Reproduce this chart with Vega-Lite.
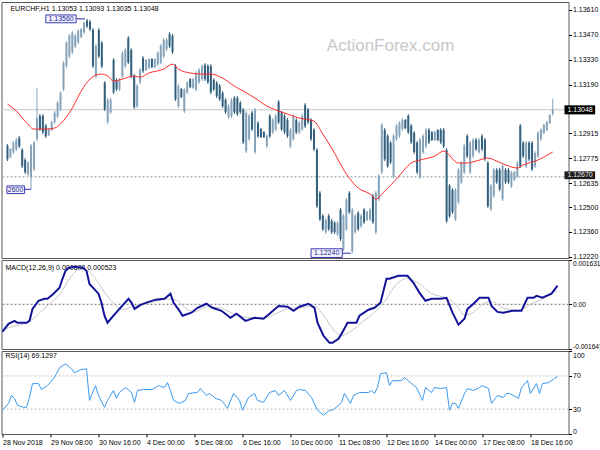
{
"$schema": "https://vega.github.io/schema/vega-lite/v6.json",
"padding": {"left": -2.5, "top": 1, "right": 0, "bottom": 0},
"background": "white",
"spacing": 2,
"bounds": "flush",
"config": {
  "view": {"stroke": "#5a5a5a", "strokeWidth": 1},
  "axis": {"labelFont": "Liberation Sans", "labelFontSize": 7, "labelColor": "#000000", "tickColor": "#000000", "tickSize": 3, "labelPadding": 1, "domain": false, "grid": false}
},
"datasets": {
"bars": [
{"i":0,"o":1.12845,"h":1.12855,"l":1.12759,"c":1.12769},
{"i":1,"o":1.12781,"h":1.12832,"l":1.12776,"c":1.12827},
{"i":2,"o":1.12809,"h":1.12872,"l":1.12799,"c":1.12862},
{"i":3,"o":1.12825,"h":1.12889,"l":1.12815,"c":1.12879},
{"i":4,"o":1.1289,"h":1.129,"l":1.12832,"c":1.12842},
{"i":5,"o":1.12822,"h":1.12832,"l":1.1272,"c":1.1273},
{"i":6,"o":1.12766,"h":1.12776,"l":1.12686,"c":1.12696},
{"i":7,"o":1.12685,"h":1.12759,"l":1.12675,"c":1.12749},
{"i":8,"o":1.12668,"h":1.12855,"l":1.126,"c":1.12845},
{"i":9,"o":1.12713,"h":1.12872,"l":1.12703,"c":1.12862},
{"i":10,"o":1.12882,"h":1.1317,"l":1.12872,"c":1.13},
{"i":11,"o":1.13014,"h":1.13024,"l":1.12928,"c":1.12938},
{"i":12,"o":1.13014,"h":1.13024,"l":1.12911,"c":1.12921},
{"i":13,"o":1.12958,"h":1.12968,"l":1.12889,"c":1.12899},
{"i":14,"o":1.12905,"h":1.12945,"l":1.129,"c":1.1294},
{"i":15,"o":1.12933,"h":1.12984,"l":1.12928,"c":1.12979},
{"i":16,"o":1.12978,"h":1.13041,"l":1.12968,"c":1.13031},
{"i":17,"o":1.13011,"h":1.13097,"l":1.13001,"c":1.13087},
{"i":18,"o":1.13051,"h":1.13153,"l":1.13041,"c":1.13143},
{"i":19,"o":1.13163,"h":1.13322,"l":1.13153,"c":1.13312},
{"i":20,"o":1.13293,"h":1.13435,"l":1.13283,"c":1.13425},
{"i":21,"o":1.13349,"h":1.13474,"l":1.13339,"c":1.13464},
{"i":22,"o":1.13372,"h":1.13491,"l":1.13362,"c":1.13481},
{"i":23,"o":1.13405,"h":1.13474,"l":1.13395,"c":1.13464},
{"i":24,"o":1.13428,"h":1.13502,"l":1.13418,"c":1.13492},
{"i":25,"o":1.13457,"h":1.13508,"l":1.13452,"c":1.13503},
{"i":26,"o":1.13484,"h":1.13547,"l":1.13474,"c":1.13537},
{"i":27,"o":1.1355,"h":1.1356,"l":1.13508,"c":1.13518},
{"i":28,"o":1.13545,"h":1.13555,"l":1.13491,"c":1.13501},
{"i":29,"o":1.13498,"h":1.13508,"l":1.13283,"c":1.13293},
{"i":30,"o":1.13236,"h":1.13418,"l":1.13226,"c":1.13408},
{"i":31,"o":1.13498,"h":1.13508,"l":1.13339,"c":1.13349},
{"i":32,"o":1.13425,"h":1.13435,"l":1.13283,"c":1.13293},
{"i":33,"o":1.132,"h":1.1321,"l":1.13041,"c":1.13051},
{"i":34,"o":1.12978,"h":1.13114,"l":1.12968,"c":1.13104},
{"i":35,"o":1.13034,"h":1.13114,"l":1.13024,"c":1.13104},
{"i":36,"o":1.13329,"h":1.13339,"l":1.13136,"c":1.13146},
{"i":37,"o":1.13216,"h":1.13226,"l":1.13153,"c":1.13163},
{"i":38,"o":1.13163,"h":1.13226,"l":1.13153,"c":1.13216},
{"i":39,"o":1.13236,"h":1.13378,"l":1.13226,"c":1.13368},
{"i":40,"o":1.13293,"h":1.13395,"l":1.13283,"c":1.13385},
{"i":41,"o":1.13453,"h":1.13463,"l":1.13305,"c":1.13315},
{"i":42,"o":1.13385,"h":1.13395,"l":1.13226,"c":1.13236},
{"i":43,"o":1.13239,"h":1.13249,"l":1.13052,"c":1.13062},
{"i":44,"o":1.13068,"h":1.13193,"l":1.13058,"c":1.13183},
{"i":45,"o":1.13203,"h":1.13283,"l":1.13193,"c":1.13273},
{"i":46,"o":1.1334,"h":1.1335,"l":1.13255,"c":1.13265},
{"i":47,"o":1.13271,"h":1.13333,"l":1.13266,"c":1.13328},
{"i":48,"o":1.13282,"h":1.13339,"l":1.13277,"c":1.13334},
{"i":49,"o":1.13334,"h":1.13339,"l":1.13283,"c":1.13288},
{"i":50,"o":1.13288,"h":1.13339,"l":1.13283,"c":1.13334},
{"i":51,"o":1.13304,"h":1.13378,"l":1.13294,"c":1.13368},
{"i":52,"o":1.13315,"h":1.13418,"l":1.13305,"c":1.13408},
{"i":53,"o":1.13349,"h":1.13452,"l":1.13339,"c":1.13442},
{"i":54,"o":1.13388,"h":1.13452,"l":1.13378,"c":1.13442},
{"i":55,"o":1.13475,"h":1.13485,"l":1.13395,"c":1.13405},
{"i":56,"o":1.13464,"h":1.13474,"l":1.13362,"c":1.13372},
{"i":57,"o":1.13295,"h":1.13305,"l":1.13097,"c":1.13107},
{"i":58,"o":1.13068,"h":1.13193,"l":1.13058,"c":1.13183},
{"i":59,"o":1.13165,"h":1.1317,"l":1.13114,"c":1.13119},
{"i":60,"o":1.13039,"h":1.1317,"l":1.13029,"c":1.1316},
{"i":61,"o":1.13146,"h":1.1321,"l":1.13136,"c":1.132},
{"i":62,"o":1.13221,"h":1.13226,"l":1.1317,"c":1.13175},
{"i":63,"o":1.1317,"h":1.13226,"l":1.13165,"c":1.13221},
{"i":64,"o":1.13163,"h":1.13266,"l":1.13153,"c":1.13256},
{"i":65,"o":1.13203,"h":1.13283,"l":1.13193,"c":1.13273},
{"i":66,"o":1.1322,"h":1.13305,"l":1.1321,"c":1.13295},
{"i":67,"o":1.13301,"h":1.13311,"l":1.1321,"c":1.1322},
{"i":68,"o":1.13295,"h":1.13305,"l":1.13193,"c":1.13203},
{"i":69,"o":1.13295,"h":1.13305,"l":1.13136,"c":1.13146},
{"i":70,"o":1.13216,"h":1.13226,"l":1.13153,"c":1.13163},
{"i":71,"o":1.132,"h":1.1321,"l":1.13114,"c":1.13124},
{"i":72,"o":1.13183,"h":1.13193,"l":1.13097,"c":1.13107},
{"i":73,"o":1.13143,"h":1.13153,"l":1.13058,"c":1.13068},
{"i":74,"o":1.13104,"h":1.13114,"l":1.13024,"c":1.13034},
{"i":75,"o":1.13006,"h":1.1308,"l":1.12996,"c":1.1307},
{"i":76,"o":1.13011,"h":1.13114,"l":1.13001,"c":1.13104},
{"i":77,"o":1.13115,"h":1.13125,"l":1.13024,"c":1.13034},
{"i":78,"o":1.13115,"h":1.13125,"l":1.13013,"c":1.13023},
{"i":79,"o":1.13087,"h":1.13097,"l":1.13024,"c":1.13034},
{"i":80,"o":1.13048,"h":1.13058,"l":1.12855,"c":1.12865},
{"i":81,"o":1.12814,"h":1.13041,"l":1.12804,"c":1.13031},
{"i":82,"o":1.12882,"h":1.13024,"l":1.12872,"c":1.13014},
{"i":83,"o":1.13031,"h":1.13041,"l":1.12928,"c":1.12938},
{"i":84,"o":1.12809,"h":1.13058,"l":1.12799,"c":1.13048},
{"i":85,"o":1.12974,"h":1.12984,"l":1.12889,"c":1.12899},
{"i":86,"o":1.1294,"h":1.12945,"l":1.12889,"c":1.12894},
{"i":87,"o":1.12923,"h":1.12928,"l":1.12889,"c":1.12894},
{"i":88,"o":1.12842,"h":1.12911,"l":1.12832,"c":1.12901},
{"i":89,"o":1.13014,"h":1.13024,"l":1.12889,"c":1.12899},
{"i":90,"o":1.12921,"h":1.13001,"l":1.12911,"c":1.12991},
{"i":91,"o":1.12938,"h":1.13024,"l":1.12928,"c":1.13014},
{"i":92,"o":1.13093,"h":1.13103,"l":1.12968,"c":1.12978},
{"i":93,"o":1.13031,"h":1.13041,"l":1.12928,"c":1.12938},
{"i":94,"o":1.13014,"h":1.13024,"l":1.12911,"c":1.12921},
{"i":95,"o":1.12991,"h":1.13001,"l":1.12889,"c":1.12899},
{"i":96,"o":1.12842,"h":1.12945,"l":1.12832,"c":1.12935},
{"i":97,"o":1.12882,"h":1.13024,"l":1.12872,"c":1.13014},
{"i":98,"o":1.12991,"h":1.13001,"l":1.12911,"c":1.12921},
{"i":99,"o":1.12921,"h":1.12984,"l":1.12911,"c":1.12974},
{"i":100,"o":1.12938,"h":1.13024,"l":1.12928,"c":1.13014},
{"i":101,"o":1.13076,"h":1.13086,"l":1.12945,"c":1.12955},
{"i":102,"o":1.13048,"h":1.13058,"l":1.12968,"c":1.12978},
{"i":103,"o":1.12991,"h":1.13001,"l":1.12872,"c":1.12882},
{"i":104,"o":1.12935,"h":1.12945,"l":1.12815,"c":1.12825},
{"i":105,"o":1.12822,"h":1.12832,"l":1.12495,"c":1.12505},
{"i":106,"o":1.1258,"h":1.1259,"l":1.12421,"c":1.12431},
{"i":107,"o":1.12451,"h":1.12461,"l":1.12365,"c":1.12375},
{"i":108,"o":1.12358,"h":1.12438,"l":1.12348,"c":1.12428},
{"i":109,"o":1.12451,"h":1.12461,"l":1.12365,"c":1.12375},
{"i":110,"o":1.12423,"h":1.12433,"l":1.12348,"c":1.12358},
{"i":111,"o":1.12411,"h":1.12421,"l":1.12348,"c":1.12358},
{"i":112,"o":1.12347,"h":1.12421,"l":1.12337,"c":1.12411},
{"i":113,"o":1.12485,"h":1.12495,"l":1.12309,"c":1.12319},
{"i":114,"o":1.12262,"h":1.12461,"l":1.12252,"c":1.12451},
{"i":115,"o":1.12375,"h":1.12551,"l":1.12365,"c":1.12541},
{"i":116,"o":1.1258,"h":1.1259,"l":1.12461,"c":1.12471},
{"i":117,"o":1.1225,"h":1.12495,"l":1.1224,"c":1.12485},
{"i":118,"o":1.12358,"h":1.12461,"l":1.12348,"c":1.12451},
{"i":119,"o":1.12468,"h":1.12478,"l":1.12365,"c":1.12375},
{"i":120,"o":1.12392,"h":1.12461,"l":1.12382,"c":1.12451},
{"i":121,"o":1.12485,"h":1.12495,"l":1.12405,"c":1.12415},
{"i":122,"o":1.12426,"h":1.12478,"l":1.12421,"c":1.12473},
{"i":123,"o":1.12431,"h":1.12495,"l":1.12421,"c":1.12485},
{"i":124,"o":1.12563,"h":1.12573,"l":1.12405,"c":1.12415},
{"i":125,"o":1.12358,"h":1.1259,"l":1.12348,"c":1.1258},
{"i":126,"o":1.12544,"h":1.12686,"l":1.12534,"c":1.12676},
{"i":127,"o":1.12696,"h":1.12973,"l":1.12686,"c":1.12963},
{"i":128,"o":1.12935,"h":1.12945,"l":1.12759,"c":1.12769},
{"i":129,"o":1.12901,"h":1.12911,"l":1.1272,"c":1.1273},
{"i":130,"o":1.12862,"h":1.12872,"l":1.12742,"c":1.12752},
{"i":131,"o":1.12673,"h":1.12911,"l":1.12663,"c":1.12901},
{"i":132,"o":1.12882,"h":1.12968,"l":1.12872,"c":1.12958},
{"i":133,"o":1.12899,"h":1.12984,"l":1.12889,"c":1.12974},
{"i":134,"o":1.12938,"h":1.13001,"l":1.12928,"c":1.12991},
{"i":135,"o":1.12991,"h":1.12996,"l":1.12939,"c":1.12944},
{"i":136,"o":1.13014,"h":1.13024,"l":1.12911,"c":1.12921},
{"i":137,"o":1.12958,"h":1.12968,"l":1.12855,"c":1.12865},
{"i":138,"o":1.12918,"h":1.12928,"l":1.12799,"c":1.12809},
{"i":139,"o":1.12862,"h":1.12872,"l":1.12686,"c":1.12696},
{"i":140,"o":1.12668,"h":1.12889,"l":1.12658,"c":1.12879},
{"i":141,"o":1.12809,"h":1.12911,"l":1.12799,"c":1.12901},
{"i":142,"o":1.12842,"h":1.12945,"l":1.12832,"c":1.12935},
{"i":143,"o":1.12935,"h":1.12945,"l":1.12855,"c":1.12865},
{"i":144,"o":1.12923,"h":1.12928,"l":1.12872,"c":1.12877},
{"i":145,"o":1.12877,"h":1.12928,"l":1.12872,"c":1.12923},
{"i":146,"o":1.12934,"h":1.12939,"l":1.12872,"c":1.12877},
{"i":147,"o":1.12935,"h":1.12945,"l":1.12855,"c":1.12865},
{"i":148,"o":1.12935,"h":1.12945,"l":1.12832,"c":1.12842},
{"i":149,"o":1.12822,"h":1.12832,"l":1.1241,"c":1.1242},
{"i":150,"o":1.1262,"h":1.1263,"l":1.12438,"c":1.12448},
{"i":151,"o":1.12597,"h":1.12607,"l":1.12461,"c":1.12471},
{"i":152,"o":1.12431,"h":1.12607,"l":1.12421,"c":1.12597},
{"i":153,"o":1.12527,"h":1.1272,"l":1.12517,"c":1.1271},
{"i":154,"o":1.1264,"h":1.12759,"l":1.1263,"c":1.12749},
{"i":155,"o":1.12696,"h":1.12855,"l":1.12686,"c":1.12845},
{"i":156,"o":1.12901,"h":1.12911,"l":1.12776,"c":1.12786},
{"i":157,"o":1.12696,"h":1.12872,"l":1.12686,"c":1.12862},
{"i":158,"o":1.12786,"h":1.12889,"l":1.12776,"c":1.12879},
{"i":159,"o":1.12879,"h":1.12889,"l":1.12815,"c":1.12825},
{"i":160,"o":1.12809,"h":1.12889,"l":1.12799,"c":1.12879},
{"i":161,"o":1.12901,"h":1.12911,"l":1.12815,"c":1.12825},
{"i":162,"o":1.12879,"h":1.12889,"l":1.12759,"c":1.12769},
{"i":163,"o":1.12749,"h":1.12759,"l":1.12495,"c":1.12505},
{"i":164,"o":1.12488,"h":1.1263,"l":1.12478,"c":1.1262},
{"i":165,"o":1.12561,"h":1.1272,"l":1.12551,"c":1.1271},
{"i":166,"o":1.1271,"h":1.1272,"l":1.1263,"c":1.1264},
{"i":167,"o":1.1271,"h":1.1272,"l":1.1259,"c":1.126},
{"i":168,"o":1.12544,"h":1.12742,"l":1.12534,"c":1.12732},
{"i":169,"o":1.1271,"h":1.1272,"l":1.1263,"c":1.1264},
{"i":170,"o":1.1271,"h":1.1272,"l":1.1263,"c":1.1264},
{"i":171,"o":1.12617,"h":1.12703,"l":1.12607,"c":1.12693},
{"i":172,"o":1.12652,"h":1.12703,"l":1.12647,"c":1.12698},
{"i":173,"o":1.12673,"h":1.12759,"l":1.12663,"c":1.12749},
{"i":174,"o":1.12958,"h":1.12968,"l":1.1272,"c":1.1273},
{"i":175,"o":1.12862,"h":1.12872,"l":1.12776,"c":1.12786},
{"i":176,"o":1.1273,"h":1.12872,"l":1.1272,"c":1.12862},
{"i":177,"o":1.12862,"h":1.12872,"l":1.12759,"c":1.12769},
{"i":178,"o":1.12862,"h":1.12872,"l":1.12703,"c":1.12713},
{"i":179,"o":1.1273,"h":1.12815,"l":1.1272,"c":1.12805},
{"i":180,"o":1.12786,"h":1.12928,"l":1.12776,"c":1.12918},
{"i":181,"o":1.12882,"h":1.12945,"l":1.12872,"c":1.12935},
{"i":182,"o":1.12916,"h":1.12968,"l":1.12911,"c":1.12963},
{"i":183,"o":1.12933,"h":1.12984,"l":1.12928,"c":1.12979},
{"i":184,"o":1.12973,"h":1.13024,"l":1.12968,"c":1.13019},
{"i":185,"o":1.13025,"h":1.1311,"l":1.13015,"c":1.13048}
],
"ma": [
{"i":0,"v":1.1308},{"i":3,"v":1.13041},{"i":6,"v":1.12984},{"i":9,"v":1.12939},{"i":13,"v":1.12939},{"i":16,"v":1.12945},{"i":18,"v":1.12968},{"i":22,"v":1.13058},{"i":25,"v":1.13153},{"i":28,"v":1.13221},{"i":30,"v":1.13243},{"i":32,"v":1.13249},{"i":34,"v":1.13238},{"i":36,"v":1.1321},{"i":39,"v":1.13221},{"i":43,"v":1.13238},{"i":45,"v":1.13232},{"i":48,"v":1.13255},{"i":53,"v":1.13277},{"i":56,"v":1.13305},{"i":58,"v":1.13277},{"i":62,"v":1.13255},{"i":66,"v":1.13249},{"i":69,"v":1.13249},{"i":73,"v":1.13226},{"i":77,"v":1.13181},{"i":80,"v":1.13153},{"i":84,"v":1.13114},{"i":88,"v":1.13069},{"i":92,"v":1.13041},{"i":95,"v":1.13024},{"i":99,"v":1.13001},{"i":104,"v":1.12984},{"i":107,"v":1.12911},{"i":110,"v":1.12832},{"i":115,"v":1.12686},{"i":119,"v":1.12607},{"i":123,"v":1.12573},{"i":125,"v":1.12545},{"i":128,"v":1.1259},{"i":132,"v":1.12658},{"i":137,"v":1.12748},{"i":140,"v":1.12765},{"i":145,"v":1.12787},{"i":148,"v":1.12815},{"i":153,"v":1.12748},{"i":156,"v":1.12748},{"i":159,"v":1.12759},{"i":163,"v":1.12776},{"i":166,"v":1.12759},{"i":170,"v":1.12731},{"i":173,"v":1.1272},{"i":175,"v":1.12737},{"i":180,"v":1.12765},{"i":185,"v":1.1281}
],
"macd": [
{"i":0,"v":-0.00101},{"i":2,"v":-0.00072},{"i":4,"v":-0.00061},{"i":5,"v":-0.00068},{"i":8,"v":-0.00068},{"i":9,"v":-0.00061},{"i":10,"v":-0.00017},{"i":12,"v":0.00013},{"i":14,"v":0.0002},{"i":15,"v":0.0002},{"i":17,"v":0.00039},{"i":19,"v":0.00061},{"i":20,"v":0.00094},{"i":21,"v":0.00123},{"i":22,"v":0.00134},{"i":24,"v":0.00138},{"i":27,"v":0.00134},{"i":28,"v":0.00123},{"i":29,"v":0.00075},{"i":32,"v":0.00039},{"i":33,"v":0.00006},{"i":34,"v":-0.00042},{"i":35,"v":-0.00068},{"i":37,"v":-0.00042},{"i":39,"v":-0.00017},{"i":42,"v":0.0002},{"i":43,"v":0.00006},{"i":44,"v":-0.00017},{"i":46,"v":-0.00002},{"i":48,"v":0.00006},{"i":51,"v":0.00017},{"i":54,"v":0.0002},{"i":56,"v":0.00039},{"i":57,"v":0.00006},{"i":59,"v":-0.00024},{"i":60,"v":-0.00042},{"i":63,"v":-0.00031},{"i":65,"v":-0.00013},{"i":68,"v":0.00002},{"i":70,"v":-0.00013},{"i":73,"v":-0.00024},{"i":76,"v":-0.0005},{"i":78,"v":-0.00035},{"i":81,"v":-0.00061},{"i":84,"v":-0.0005},{"i":87,"v":-0.00053},{"i":89,"v":-0.00035},{"i":92,"v":-0.00006},{"i":95,"v":-0.00009},{"i":97,"v":-0.00024},{"i":99,"v":-0.00009},{"i":102,"v":0.00002},{"i":104,"v":-0.00013},{"i":105,"v":-0.00068},{"i":107,"v":-0.00116},{"i":109,"v":-0.00142},{"i":110,"v":-0.00142},{"i":112,"v":-0.00127},{"i":113,"v":-0.00109},{"i":115,"v":-0.00068},{"i":118,"v":-0.00068},{"i":119,"v":-0.00042},{"i":122,"v":-0.0002},{"i":124,"v":-0.00013},{"i":126,"v":0.00006},{"i":128,"v":0.00094},{"i":129,"v":0.00094},{"i":132,"v":0.00105},{"i":135,"v":0.00105},{"i":137,"v":0.00079},{"i":139,"v":0.00042},{"i":141,"v":0.00013},{"i":143,"v":0.0002},{"i":146,"v":0.0002},{"i":148,"v":0.00024},{"i":150,"v":-0.00031},{"i":152,"v":-0.00075},{"i":154,"v":-0.00053},{"i":155,"v":-0.00017},{"i":157,"v":0.00002},{"i":159,"v":0.00024},{"i":162,"v":0.00024},{"i":163,"v":-0.00006},{"i":165,"v":-0.00028},{"i":167,"v":-0.00031},{"i":170,"v":-0.00024},{"i":173,"v":-0.00024},{"i":175,"v":0.00024},{"i":177,"v":0.00024},{"i":178,"v":0.00031},{"i":180,"v":0.00024},{"i":183,"v":0.00039},{"i":185,"v":0.000688}
],
"signal": [
{"i":0,"v":-0.00095},{"i":4,"v":-0.0008},{"i":8,"v":-0.00068},{"i":10,"v":-0.00055},{"i":13,"v":-0.00025},{"i":16,"v":0.00005},{"i":19,"v":0.00035},{"i":21,"v":0.0007},{"i":23,"v":0.00105},{"i":26,"v":0.00128},{"i":29,"v":0.0012},{"i":31,"v":0.00095},{"i":34,"v":0.00045},{"i":37,"v":0.00005},{"i":40,"v":-0.0002},{"i":43,"v":-0.0001},{"i":46,"v":-0.00002},{"i":50,"v":0.00008},{"i":55,"v":0.0002},{"i":58,"v":0.00015},{"i":61,"v":-0.00015},{"i":64,"v":-0.00028},{"i":68,"v":-0.0001},{"i":72,"v":-0.00012},{"i":76,"v":-0.0003},{"i":80,"v":-0.00045},{"i":84,"v":-0.0005},{"i":88,"v":-0.00048},{"i":92,"v":-0.0003},{"i":96,"v":-0.00015},{"i":100,"v":-0.00012},{"i":104,"v":-0.00006},{"i":107,"v":-0.0004},{"i":110,"v":-0.0009},{"i":113,"v":-0.00115},{"i":116,"v":-0.001},{"i":120,"v":-0.00065},{"i":124,"v":-0.0003},{"i":128,"v":0.0002},{"i":131,"v":0.0007},{"i":135,"v":0.00095},{"i":139,"v":0.00075},{"i":143,"v":0.0004},{"i":148,"v":0.00022},{"i":151,"v":0.0},{"i":154,"v":-0.0004},{"i":157,"v":-0.0003},{"i":160,"v":0.0},{"i":163,"v":0.0001},{"i":167,"v":-0.00015},{"i":172,"v":-0.00022},{"i":176,"v":0.0},{"i":180,"v":0.0002},{"i":185,"v":0.000523}
],
"rsi": [
{"i":0,"v":28.6},{"i":2,"v":36.9},{"i":3,"v":46.4},{"i":4,"v":42.9},{"i":5,"v":34.5},{"i":7,"v":32.1},{"i":8,"v":32.1},{"i":9,"v":44},{"i":10,"v":60.7},{"i":12,"v":60.7},{"i":13,"v":53.6},{"i":15,"v":58.3},{"i":17,"v":66.7},{"i":18,"v":72.6},{"i":19,"v":79.8},{"i":21,"v":84.5},{"i":23,"v":78.6},{"i":24,"v":73.8},{"i":26,"v":77.4},{"i":28,"v":78.6},{"i":29,"v":40.5},{"i":31,"v":58.3},{"i":32,"v":46.4},{"i":34,"v":32.1},{"i":35,"v":40.5},{"i":37,"v":52.4},{"i":38,"v":42.9},{"i":39,"v":50},{"i":41,"v":56},{"i":43,"v":50},{"i":44,"v":38.1},{"i":45,"v":52.4},{"i":47,"v":53.6},{"i":50,"v":53.6},{"i":52,"v":58.3},{"i":54,"v":56},{"i":55,"v":61.9},{"i":56,"v":52.4},{"i":57,"v":40.5},{"i":59,"v":36.9},{"i":61,"v":40.5},{"i":62,"v":48.8},{"i":65,"v":50},{"i":66,"v":54.8},{"i":68,"v":46.4},{"i":69,"v":48.8},{"i":71,"v":42.9},{"i":73,"v":40.5},{"i":75,"v":31},{"i":77,"v":48.8},{"i":79,"v":40.5},{"i":80,"v":28.6},{"i":82,"v":44},{"i":84,"v":48.8},{"i":85,"v":40.5},{"i":87,"v":38.1},{"i":89,"v":50},{"i":91,"v":52.4},{"i":92,"v":46.4},{"i":94,"v":52.4},{"i":96,"v":40.5},{"i":98,"v":52.4},{"i":99,"v":53.6},{"i":101,"v":52.4},{"i":103,"v":44},{"i":105,"v":28.6},{"i":107,"v":22.6},{"i":109,"v":28.6},{"i":110,"v":28.6},{"i":112,"v":34.5},{"i":113,"v":38.1},{"i":114,"v":48.8},{"i":116,"v":36.9},{"i":117,"v":46.4},{"i":119,"v":50},{"i":122,"v":50},{"i":123,"v":52.4},{"i":124,"v":48.8},{"i":125,"v":56},{"i":126,"v":72.6},{"i":128,"v":73.8},{"i":129,"v":58.3},{"i":130,"v":64.3},{"i":133,"v":64.3},{"i":134,"v":67.9},{"i":136,"v":61.9},{"i":138,"v":56},{"i":140,"v":40.5},{"i":141,"v":56},{"i":143,"v":50},{"i":144,"v":56},{"i":146,"v":54.8},{"i":148,"v":56},{"i":149,"v":28.6},{"i":150,"v":36.9},{"i":151,"v":36.9},{"i":152,"v":31},{"i":154,"v":48.8},{"i":155,"v":54.8},{"i":157,"v":52.4},{"i":159,"v":56},{"i":160,"v":58.3},{"i":162,"v":54.8},{"i":163,"v":36.9},{"i":165,"v":46.4},{"i":167,"v":44},{"i":168,"v":48.8},{"i":169,"v":48.8},{"i":172,"v":42.9},{"i":173,"v":56},{"i":175,"v":64.3},{"i":176,"v":48.8},{"i":178,"v":60.7},{"i":179,"v":48.8},{"i":180,"v":60.7},{"i":182,"v":61.9},{"i":184,"v":66.7},{"i":185,"v":69.13}
]
},
"vconcat": [
{
  "width": 567, "height": 256,
  "resolve": {"axis": {"x": "independent", "y": "independent"}},
  "layer": [
    {"data": {"values": [{}]}, "mark": {"type": "rule", "color": "#c4c4c4", "strokeWidth": 1},
     "encoding": {"y": {"datum": 1.13048, "type": "quantitative", "scale": {"domain": [1.12213, 1.13655], "nice": false, "zero": false},
             "axis": {"orient": "right", "title": null, "values": [1.1361, 1.1347, 1.1333, 1.1319, 1.12915, 1.12775, 1.12635, 1.125, 1.1236, 1.1222], "format": ".5f"}}}},
    {"data": {"values": [{}]}, "mark": {"type": "rule", "color": "#8c9a9a", "strokeWidth": 1, "strokeDash": [2, 2]},
     "encoding": {"y": {"datum": 1.1267, "type": "quantitative", "axis": null}}},
    {"data": {"values": [{}]}, "mark": {"type": "text", "text": "ActionForex.com", "font": "Liberation Sans", "fontSize": 17, "color": "#c8c8c8", "align": "center", "baseline": "middle"},
     "encoding": {"x": {"datum": 130, "type": "quantitative", "scale": {"domain": [-0.333, 188.667], "nice": false, "zero": false}, "axis": null}, "y": {"datum": 1.13407, "type": "quantitative", "axis": null}}},
    {"data": {"values": [{}]}, "mark": {"type": "text", "text": "EURCHF,H1  1.13053 1.13093 1.13035 1.13048", "font": "Liberation Sans", "fontSize": 7, "color": "#000000", "align": "left", "baseline": "middle"},
     "encoding": {"x": {"datum": 1.0, "type": "quantitative", "axis": null}, "y": {"datum": 1.13618, "type": "quantitative", "axis": null}}},
    {"data": {"name": "bars"}, "mark": {"type": "rule", "strokeWidth": 1},
     "encoding": {
       "x": {"field": "i", "type": "quantitative", "axis": null},
       "y": {"field": "l", "type": "quantitative", "axis": null},
       "y2": {"field": "h"},
       "color": {"condition": {"test": "datum.c >= datum.o", "value": "#86a3ba"}, "value": "#33607f"}}},
    {"data": {"name": "bars"}, "mark": {"type": "bar", "width": 2, "orient": "vertical"},
     "encoding": {
       "x": {"field": "i", "type": "quantitative", "axis": null},
       "y": {"field": "o", "type": "quantitative", "axis": null},
       "y2": {"field": "c"},
       "color": {"condition": {"test": "datum.c >= datum.o", "value": "#86a3ba"}, "value": "#33607f"}}},
    {"data": {"name": "ma"}, "mark": {"type": "line", "color": "#ff2b2b", "strokeWidth": 1, "interpolate": "monotone"},
     "encoding": {"x": {"field": "i", "type": "quantitative", "axis": null}, "y": {"field": "v", "type": "quantitative", "axis": null}}},
    {"data": {"values": [{}]}, "mark": {"type": "rule", "color": "#2a2aa0", "strokeWidth": 1},
     "encoding": {"x": {"datum": 23.3, "type": "quantitative", "axis": null}, "x2": {"datum": 26.3}, "y": {"datum": 1.1356, "type": "quantitative", "axis": null}}},
    {"data": {"values": [{}]}, "mark": {"type": "rect", "fill": "#f4f4ff", "stroke": "#3a3ab0", "strokeWidth": 1},
     "encoding": {"x": {"datum": 13.0, "type": "quantitative", "axis": null}, "x2": {"datum": 23.3}, "y": {"datum": 1.13538, "type": "quantitative", "axis": null}, "y2": {"datum": 1.13582}}},
    {"data": {"values": [{}]}, "mark": {"type": "text", "text": "1.13560", "font": "Liberation Sans", "fontSize": 7, "color": "#1c1c8c", "align": "center", "baseline": "middle"},
     "encoding": {"x": {"datum": 18.2, "type": "quantitative", "axis": null}, "y": {"datum": 1.1356, "type": "quantitative", "axis": null}}},
    {"data": {"values": [{}]}, "mark": {"type": "rule", "color": "#2a2aa0", "strokeWidth": 1},
     "encoding": {"x": {"datum": 113.6, "type": "quantitative", "axis": null}, "x2": {"datum": 116.5}, "y": {"datum": 1.1224, "type": "quantitative", "axis": null}}},
    {"data": {"values": [{}]}, "mark": {"type": "rect", "fill": "#f4f4ff", "stroke": "#3a3ab0", "strokeWidth": 1},
     "encoding": {"x": {"datum": 103.0, "type": "quantitative", "axis": null}, "x2": {"datum": 113.6}, "y": {"datum": 1.12216, "type": "quantitative", "axis": null}, "y2": {"datum": 1.12265}}},
    {"data": {"values": [{}]}, "mark": {"type": "text", "text": "1.12240", "font": "Liberation Sans", "fontSize": 7, "color": "#1c1c8c", "align": "center", "baseline": "middle"},
     "encoding": {"x": {"datum": 108.3, "type": "quantitative", "axis": null}, "y": {"datum": 1.1224, "type": "quantitative", "axis": null}}},
    {"data": {"values": [{}]}, "mark": {"type": "rule", "color": "#2a2aa0", "strokeWidth": 1},
     "encoding": {"x": {"datum": 5.8, "type": "quantitative", "axis": null}, "x2": {"datum": 8}, "y": {"datum": 1.126, "type": "quantitative", "axis": null}}},
    {"data": {"values": [{}]}, "mark": {"type": "rect", "fill": "#f4f4ff", "stroke": "#3a3ab0", "strokeWidth": 1},
     "encoding": {"x": {"datum": -0.2, "type": "quantitative", "axis": null}, "x2": {"datum": 5.8}, "y": {"datum": 1.12576, "type": "quantitative", "axis": null}, "y2": {"datum": 1.12619}}},
    {"data": {"values": [{}]}, "mark": {"type": "text", "text": "2600", "font": "Liberation Sans", "fontSize": 7, "color": "#1c1c8c", "align": "right", "baseline": "middle"},
     "encoding": {"x": {"datum": 5.4, "type": "quantitative", "axis": null}, "y": {"datum": 1.12598, "type": "quantitative", "axis": null}}},
    {"data": {"values": [{}]}, "mark": {"type": "rect", "fill": "#000000"},
     "encoding": {"x": {"datum": 189.0, "type": "quantitative", "axis": null}, "x2": {"datum": 199.4}, "y": {"datum": 1.13022, "type": "quantitative", "axis": null}, "y2": {"datum": 1.13073}}},
    {"data": {"values": [{}]}, "mark": {"type": "text", "text": "1.13048", "font": "Liberation Sans", "fontSize": 7, "color": "#ffffff", "align": "left", "baseline": "middle"},
     "encoding": {"x": {"datum": 190.0, "type": "quantitative", "axis": null}, "y": {"datum": 1.13048, "type": "quantitative", "axis": null}}},
    {"data": {"values": [{}]}, "mark": {"type": "rect", "fill": "#1e1e1e"},
     "encoding": {"x": {"datum": 189.0, "type": "quantitative", "axis": null}, "x2": {"datum": 199.4}, "y": {"datum": 1.12657, "type": "quantitative", "axis": null}, "y2": {"datum": 1.12701}}},
    {"data": {"values": [{}]}, "mark": {"type": "text", "text": "1.12670", "font": "Liberation Sans", "fontSize": 7, "color": "#e8e8e8", "align": "left", "baseline": "middle"},
     "encoding": {"x": {"datum": 190.0, "type": "quantitative", "axis": null}, "y": {"datum": 1.12679, "type": "quantitative", "axis": null}}}
  ]
},
{
  "width": 567, "height": 89,
  "resolve": {"axis": {"x": "independent", "y": "independent"}},
  "layer": [
    {"data": {"values": [{}]}, "mark": {"type": "rule", "color": "#707070", "strokeWidth": 1, "strokeDash": [2, 2]},
     "encoding": {"y": {"datum": 0, "type": "quantitative", "scale": {"domain": [-0.001647, 0.001631], "nice": false, "zero": false},
             "axis": {"orient": "right", "title": null, "values": [0.001631, 0, -0.001647], "labelFontSize": 6.6,
                      "labelExpr": "datum.value > 0.001 ? '0.001631' : (datum.value < -0.001 ? '-0.001647' : '0.00')",
                      "labelBaseline": {"condition": [{"test": "datum.value > 0.001", "value": "top"}, {"test": "datum.value < -0.001", "value": "bottom"}], "value": "middle"}}}}},
    {"data": {"values": [{}]}, "mark": {"type": "text", "text": "MACD(12,26,9) 0.000688 0.000523", "font": "Liberation Sans", "fontSize": 7, "color": "#000000", "align": "left", "baseline": "middle"},
     "encoding": {"x": {"datum": 1.0, "type": "quantitative", "scale": {"domain": [-0.333, 188.667], "nice": false, "zero": false}, "axis": null}, "y": {"datum": 0.00134, "type": "quantitative", "axis": null}}},
    {"data": {"name": "signal"}, "mark": {"type": "line", "color": "#c8c8c8", "strokeWidth": 1, "interpolate": "monotone"},
     "encoding": {"x": {"field": "i", "type": "quantitative", "axis": null}, "y": {"field": "v", "type": "quantitative", "axis": null}}},
    {"data": {"name": "macd"}, "mark": {"type": "line", "color": "#13139a", "strokeWidth": 2},
     "encoding": {"x": {"field": "i", "type": "quantitative", "axis": null}, "y": {"field": "v", "type": "quantitative", "axis": null}}}
  ]
},
{
  "width": 567, "height": 83,
  "resolve": {"axis": {"x": "independent", "y": "independent"}},
  "layer": [
    {"data": {"values": [{"lv": 70}, {"lv": 30}]}, "mark": {"type": "rule", "color": "#c0c0c0", "strokeWidth": 1, "strokeDash": [2, 2]},
     "encoding": {"y": {"field": "lv", "type": "quantitative", "scale": {"domain": [0, 100], "nice": false, "zero": false},
             "axis": {"orient": "right", "title": null, "values": [100, 70, 30, 0],
                      "labelBaseline": {"condition": [{"test": "datum.value > 90", "value": "top"}, {"test": "datum.value < 10", "value": "bottom"}], "value": "middle"}}}}},
    {"data": {"values": [{}]}, "mark": {"type": "text", "text": "RSI(14) 69.1297", "font": "Liberation Sans", "fontSize": 7, "color": "#000000", "align": "left", "baseline": "middle"},
     "encoding": {"x": {"datum": 1.0, "type": "quantitative", "axis": null}, "y": {"datum": 94, "type": "quantitative", "axis": null}}},
    {"data": {"name": "rsi"}, "mark": {"type": "line", "color": "#3a9af0", "strokeWidth": 1},
     "encoding": {
       "x": {"field": "i", "type": "quantitative", "scale": {"domain": [-0.333, 188.667], "nice": false, "zero": false},
             "axis": {"orient": "bottom", "title": null, "values": [0, 16, 32, 48, 64, 80, 96, 112, 128, 144, 160, 176],
                      "labelExpr": "['28 Nov 2018','29 Nov 08:00','30 Nov 16:00','4 Dec 00:00','5 Dec 08:00','6 Dec 16:00','10 Dec 00:00','11 Dec 08:00','12 Dec 16:00','14 Dec 00:00','17 Dec 08:00','18 Dec 16:00'][round(datum.value/16)]",
                      "labelAlign": "left", "labelFlush": false, "labelOverlap": false}},
       "y": {"field": "v", "type": "quantitative", "axis": null}}}
  ]
}
]
}
